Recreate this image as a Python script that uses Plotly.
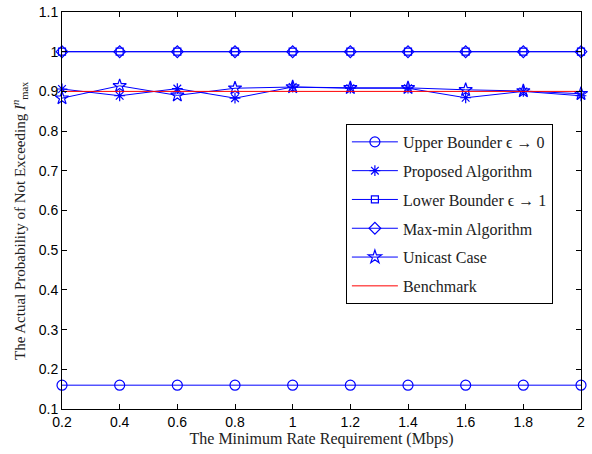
import plotly.graph_objects as go

x_rate = [0.2, 0.4, 0.6, 0.8, 1.0, 1.2, 1.4, 1.6, 1.8, 2.0]
upper_bounder = [0.16] * 10
proposed = [0.906, 0.889, 0.907, 0.883, 0.911, 0.908, 0.908, 0.884, 0.900, 0.889]
lower_bounder = [1.0] * 10
maxmin = [1.0] * 10
unicast = [0.883, 0.914, 0.890, 0.908, 0.911, 0.909, 0.909, 0.904, 0.901, 0.894]
benchmark = [0.9] * 10

x_ticks = [0.2, 0.4, 0.6, 0.8, 1.0, 1.2, 1.4, 1.6, 1.8, 2.0]
x_ticklabels = ["0.2", "0.4", "0.6", "0.8", "1", "1.2", "1.4", "1.6", "1.8", "2"]
y_ticks = [0.1, 0.2, 0.3, 0.4, 0.5, 0.6, 0.7, 0.8, 0.9, 1.0, 1.1]
y_ticklabels = ["0.1", "0.2", "0.3", "0.4", "0.5", "0.6", "0.7", "0.8", "0.9", "1", "1.1"]

BLUE = "#0000FF"
RED = "#FF0000"
SERIF = "Liberation Serif, Times New Roman, serif"

fig = go.Figure()

def add(y, name, symbol, color=BLUE, msize=9, mode="lines+markers"):
    fig.add_trace(go.Scatter(
        x=x_rate, y=y, name=name, mode=mode, legendgroup=name,
        line=dict(color=color, width=1),
        marker=dict(symbol=symbol, size=msize, color=color,
                    line=dict(color=color, width=1.2)),
        cliponaxis=False,
    ))

add(upper_bounder, "Upper Bounder ϵ → 0", "circle-open", msize=10)
add(proposed, "Proposed Algorithm", "asterisk-open", msize=9)
add(lower_bounder, "Lower Bounder ϵ → 1", "square-open", msize=7)
add(maxmin, "Max-min Algorithm", "diamond-open", msize=9)
add(unicast, "Unicast Case", "star-open", msize=10)
add(benchmark, "Benchmark", "circle", color=RED, mode="lines")

axis_common = dict(
    showline=True, linecolor="black", linewidth=1, mirror="ticks",
    ticks="inside", ticklen=5, tickcolor="black", showgrid=False, zeroline=False,
    automargin=False,
    tickfont=dict(family="Liberation Sans, Arial, sans-serif", size=14, color="black"),
)

fig.update_layout(
    width=592, height=454,
    margin=dict(l=62, r=11, t=12, b=45),
    paper_bgcolor="white", plot_bgcolor="white",
    showlegend=True,
    legend=dict(
        x=0.547, y=0.718, xanchor="left", yanchor="top",
        bordercolor="black", borderwidth=1, bgcolor="white",
        font=dict(family=SERIF, size=16, color="#222"),
        tracegroupgap=5, itemwidth=46,
    ),
    xaxis=dict(range=[0.2, 2.0], tickvals=x_ticks, ticktext=x_ticklabels,
               title=dict(text="The Minimum Rate Requirement (Mbps)", standoff=2,
                          font=dict(family=SERIF, size=16, color="#222")),
               **axis_common),
    yaxis=dict(range=[0.1, 1.1], tickvals=y_ticks, ticktext=y_ticklabels,
               **axis_common),
    annotations=[dict(
        text="The Actual Probability of Not Exceeding <i>I</i><sup><i>n</i></sup><sub>max</sub>",
        xref="paper", yref="paper", x=-0.081, y=0.476, xanchor="center", yanchor="middle",
        textangle=-90, showarrow=False, font=dict(family=SERIF, size=15, color="#222"),
    )],
)

fig.write_html("out.html", config={"displayModeBar": False},
               post_script="document.body.style.margin='0';document.body.style.overflow='hidden';")
